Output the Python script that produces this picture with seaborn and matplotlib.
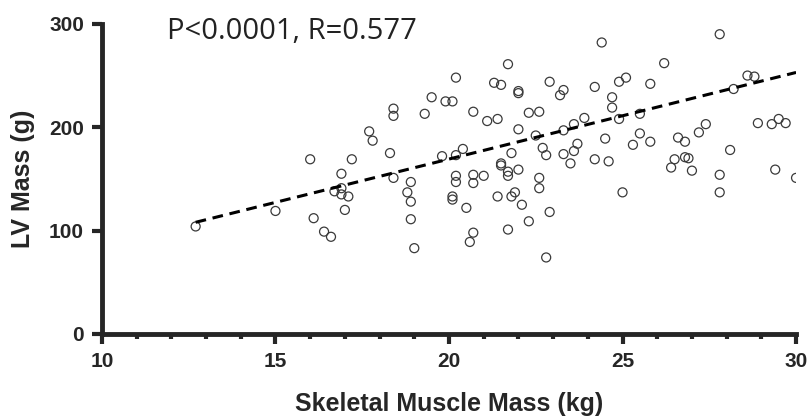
import numpy as np
import pandas as pd
import matplotlib
matplotlib.use("Agg")
import matplotlib.pyplot as plt
import seaborn as sns
from matplotlib.ticker import MultipleLocator

# === данные ===
skeletal_kg = [
    12.7, 15.0, 16.1, 16.4, 16.6, 17.0, 16.0, 17.2, 16.9, 16.7, 16.9, 16.9, 17.1,
    17.7, 17.8, 18.3, 18.4, 18.4, 18.4, 18.9, 18.8, 18.9, 18.9, 19.0, 19.5, 19.9,
    20.1, 19.3, 20.7, 21.1, 21.4, 20.2, 21.3, 21.5, 21.7, 22.0, 22.0, 22.9, 23.3,
    23.2, 24.2, 24.4, 24.9, 25.1, 25.8, 26.2, 24.7, 24.7, 27.8, 28.6, 28.8, 28.2,
    22.3, 22.6, 22.0, 22.5, 23.9, 23.6, 23.3, 24.9, 25.5, 25.5, 25.8, 25.3, 24.5,
    22.7, 22.8, 23.7, 23.6, 23.3, 23.5, 24.2, 24.6, 21.8, 21.5, 21.5, 21.7, 21.7,
    22.0, 20.4, 20.2, 19.8, 26.6, 26.8, 27.2, 27.4, 28.1, 26.5, 26.4, 26.8, 26.9,
    27.0, 28.9, 29.3, 29.5, 29.7, 29.4, 30.0, 27.8, 27.8, 25.0, 20.2, 20.2, 20.7,
    20.7, 21.0, 20.1, 20.1, 21.4, 21.8, 21.9, 22.6, 22.6, 22.1, 20.5, 20.7, 20.6,
    21.7, 22.3, 22.9, 22.8,
]
lv_mass_g = [
    104, 119, 112, 99, 94, 120, 169, 169, 155, 138, 141, 135, 133,
    196, 187, 175, 151, 218, 211, 147, 137, 128, 111, 83, 229, 225,
    225, 213, 215, 206, 208, 248, 243, 241, 261, 235, 233, 244, 236,
    231, 239, 282, 244, 248, 242, 262, 229, 219, 290, 250, 249, 237,
    214, 215, 198, 192, 209, 203, 197, 208, 213, 194, 186, 183, 189,
    180, 173, 184, 177, 174, 165, 169, 167, 175, 165, 163, 157, 153,
    159, 179, 173, 172, 190, 186, 195, 203, 178, 169, 161, 171, 170,
    158, 204, 203, 208, 204, 159, 151, 154, 137, 137, 153, 147, 154,
    146, 153, 133, 130, 133, 133, 137, 151, 141, 125, 122, 98, 89,
    101, 109, 118, 74,
]
# линия тренда как на картинке (наклон и сдвиг)
fit_slope = 8.38
fit_intercept = 1.6
x_ticks = [10, 15, 20, 25, 30]
y_ticks = [0, 100, 200, 300]
stats_text = "P<0.0001, R=0.577"

df = pd.DataFrame({"skm": skeletal_kg, "lv": lv_mass_g})
x_fit = np.array([df["skm"].min(), df["skm"].max()])
fit_df = pd.DataFrame({"skm": x_fit, "lv": fit_slope * x_fit + fit_intercept})

sns.set_style("ticks")
plt.rcParams["font.family"] = ["Liberation Sans", "DejaVu Sans"]

fig = plt.figure(figsize=(8.09, 4.19), dpi=100)
ax = fig.add_axes([0.126, 0.203, 0.858, 0.740])

sns.scatterplot(data=df, x="skm", y="lv", ax=ax, marker="o", s=42,
                facecolor="none", edgecolor="#3a3a3a", linewidth=0.9, zorder=3)
sns.lineplot(data=fit_df, x="skm", y="lv", ax=ax, color="black", lw=2.2,
             linestyle=(0, (3.5, 2.2)), zorder=4)

ax.set_xlim(10, 30)
ax.set_ylim(0, 300)
ax.set_xticks(x_ticks)
ax.set_yticks(y_ticks)
ax.xaxis.set_minor_locator(MultipleLocator(1))

for side in ["top", "right"]:
    ax.spines[side].set_visible(False)
for side in ["left", "bottom"]:
    ax.spines[side].set_linewidth(3.5)
    ax.spines[side].set_capstyle("projecting")

ax.tick_params(axis="both", which="major", length=7, width=3, pad=6,
               labelsize=15, direction="out")
ax.tick_params(axis="x", which="minor", length=3.5, width=3, direction="out")
for lab in ax.get_xticklabels() + ax.get_yticklabels():
    lab.set_fontweight("bold")

ax.set_xlabel("Skeletal Muscle Mass (kg)", fontsize=18, fontweight="bold", labelpad=15)
ax.set_ylabel("LV Mass (g)", fontsize=18, fontweight="bold")
ax.yaxis.set_label_coords(-0.097, 0.5)

ax.text(11.87, 293, stats_text, fontsize=21, color="#222222",
        family=["Open Sans", "DejaVu Sans"], va="center", ha="left")

fig.savefig("out.png", dpi=100)
